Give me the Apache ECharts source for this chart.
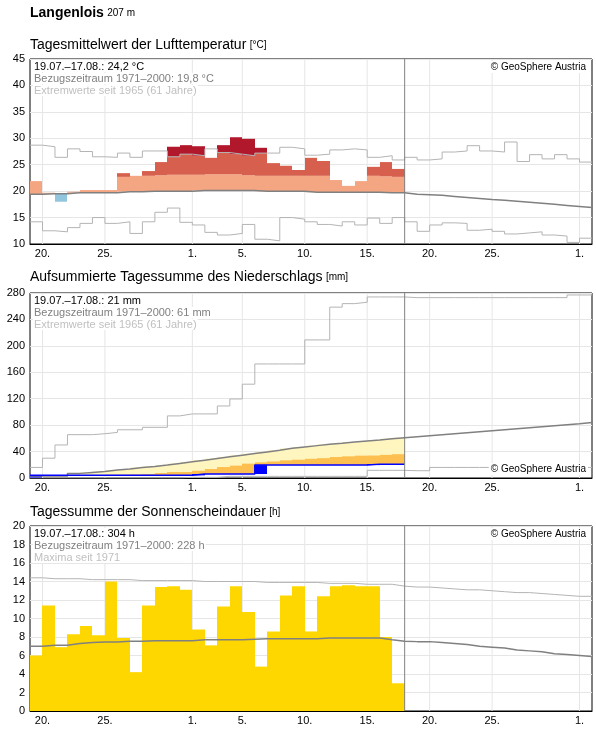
<!DOCTYPE html>
<html>
<head>
<meta charset="utf-8">
<script src="https://cdn.jsdelivr.net/npm/echarts@6/dist/echarts.min.js"></script>
<style>
html,body{margin:0;padding:0;background:#fff;}
#chart{width:596px;height:729px;}
</style>
</head>
<body>
<div id="chart"></div>
<script>
// x = Tage ab 19.07. (Tagesbeginn), Ende der Messdaten bei 30 (18.08.)
const tickPos = [1, 6, 13, 17, 22, 27, 32, 37, 44];
const tickLabels = ['20.', '25.', '1.', '5.', '10.', '15.', '20.', '25.', '1.'];
const obsEnd = 30;

// Temperatur
const tempObs = [21.9, 19.7, 18.0, 19.9, 20.2, 20.2, 20.2, 23.4, 22.9, 23.8, 25.5, 28.4, 28.7, 28.5, 26.3,
  28.7, 30.2, 29.9, 28.2, 25.3, 24.8, 24.0, 26.3, 25.7, 22.1, 21.0, 21.9, 24.6, 25.5, 24.2];
const tempThr = [22.4, 22.5, 22.5, 22.7, 22.7, 22.7, 22.7, 22.7, 22.9, 22.9, 23.0, 23.1, 23.1, 23.1, 23.2,
  23.2, 23.2, 23.0, 22.9, 22.9, 22.9, 22.9, 22.9, 22.9, 22.8, 22.8, 22.8, 22.9, 22.8, 22.7];
const tempNorm = [19.4, 19.5, 19.5, 19.7, 19.7, 19.7, 19.7, 19.9, 19.9, 20.0, 20.0, 20.0, 20.0, 20.1, 20.1,
  20.1, 20.1, 20.1, 20.0, 20.0, 20.0, 20.0, 19.8, 19.8, 19.8, 19.8, 19.8, 19.8, 19.7, 19.7,
  19.4, 19.3, 19.2, 19.0, 18.8, 18.6, 18.4, 18.3, 18.1, 17.9, 17.7, 17.5, 17.3, 17.1, 16.9];
const tempMax = [28.7, 28.4, 26.4, 28.0, 27.5, 26.5, 26.4, 27.2, 26.4, 27.6, 27.6, 26.5, 27.0, 26.7, 28.0,
  27.3, 27.0, 26.7, 27.2, 27.2, 28.3, 28.0, 26.8, 27.0, 27.8, 28.0, 27.8, 26.4, 26.7, 25.9,
  26.4, 25.9, 26.1, 27.4, 27.6, 28.6, 27.6, 27.4, 29.3, 25.6, 26.9, 26.1, 26.9, 26.1, 25.5];
const tempMin = [14.2, 12.5, 12.3, 13.1, 13.9, 15.0, 13.9, 14.2, 12.0, 14.2, 16.0, 16.8, 14.1, 13.6, 12.2,
  11.7, 12.0, 13.7, 10.9, 10.6, 15.0, 14.7, 14.2, 13.7, 13.4, 14.2, 13.6, 14.9, 13.9, 15.0,
  14.2, 12.4, 13.6, 14.0, 13.9, 12.6, 12.8, 12.4, 11.9, 12.1, 12.3, 11.7, 11.5, 10.3, 11.1];

// Niederschlag
const rainDaily = [4, 0, 0, 0, 0, 0, 0, 0, 0, 0, 0, 0, 0, 2, 0, 0, 0, 0, 13.5, 0, 0, 0, 0, 0, 0, 0, 0, 1.5, 0, 0];
const rainPct = [4, 4, 4, 4, 4.5, 4.5, 5, 5, 5.5, 6, 7.5, 9, 9, 11, 13.6, 16.6, 18.7, 21.7, 23.7, 25,
  26.7, 27.7, 29, 30, 31.8, 32.8, 33.8, 34, 35, 36];
const rainNorm = [3, 3, 3, 7, 8.5, 10, 12, 13.5, 16, 17.5, 19.5, 22, 24.5, 27, 29.5, 32, 34.5, 37, 39.5, 42,
  45, 47, 49, 51, 52.5, 54.5, 56, 57.5, 59.5, 61,
  62.5, 64, 65.5, 67, 68.5, 70, 71.5, 73, 74.5, 76, 77.5, 79, 80.5, 82, 84];
const rainMax = [16, 30, 50, 65.6, 65.6, 67, 69, 73, 73, 76.7, 76.7, 94, 97, 97, 97, 109, 119.6, 142, 172.6, 172.6,
  172.6, 172.6, 209, 209, 258.6, 263.9, 266, 274, 274, 274,
  273, 273, 273, 273, 273, 273, 273, 273, 273, 273, 273, 273, 273, 277, 277];
const rainMin = [0, 0, 0, 0, 0, 0, 0, 0, 0, 0, 0, 0, 1, 1, 1, 2.5, 2.5, 2.5, 2.5, 2.5, 2.5, 2.5, 2.5, 2.5, 2.5,
  2.5, 2.5, 11.6, 11.6, 11.6, 11, 11, 16, 16, 16, 16, 16, 16, 16, 16, 16, 16, 16, 16, 16];

// Sonnenschein
const sunObs = [6.0, 11.4, 6.9, 8.3, 9.2, 8.2, 14.0, 7.9, 4.2, 11.4, 13.4, 13.5, 13.1, 8.8, 7.1,
  11.3, 13.5, 10.7, 4.8, 8.6, 12.5, 13.5, 8.6, 12.4, 13.5, 13.6, 13.5, 13.5, 8.0, 3.0];
const sunNorm = [7.0, 7.1, 7.1, 7.3, 7.4, 7.45, 7.45, 7.55, 7.55, 7.6, 7.6, 7.6, 7.6, 7.7, 7.7,
  7.7, 7.7, 7.75, 7.8, 7.8, 7.8, 7.8, 7.8, 7.9, 7.9, 7.9, 7.9, 7.9, 7.7, 7.55,
  7.5, 7.5, 7.4, 7.3, 7.2, 7.0, 6.9, 6.8, 6.6, 6.5, 6.4, 6.2, 6.1, 6.0, 5.9];
const sunMax = [14.4, 14.3, 14.3, 14.3, 14.2, 14.2, 14.2, 14.2, 14.1, 14.1, 14.1, 14.1, 14.1, 14.0, 14.0,
  14.0, 14.0, 14.0, 13.9, 13.9, 13.9, 13.9, 13.9, 13.8, 13.8, 13.8, 13.7, 13.7, 13.7, 13.5,
  13.4, 13.4, 13.3, 13.2, 13.1, 13.1, 13.0, 12.9, 12.8, 12.8, 12.7, 12.6, 12.5, 12.4, 12.4];

const font = 'Arial, "Liberation Sans", sans-serif';
const grids = [
  {left: 30, right: 4, top: 59, height: 185},
  {left: 30, right: 4, top: 293, height: 185},
  {left: 30, right: 4, top: 526, height: 185}
];

function stepData(arr) {
  let d = arr.map((v, i) => [i, v]);
  d.push([arr.length, arr[arr.length - 1]]);
  return d;
}
function stepLine(arr, idx, color, width) {
  return {type: 'line', step: 'end', xAxisIndex: idx, yAxisIndex: idx, data: stepData(arr),
    symbol: 'none', silent: true, z: 5, lineStyle: {color: color, width: width || 1}};
}
function band(rows, idx, color, z) {
  return {
    type: 'custom', xAxisIndex: idx, yAxisIndex: idx, data: rows, silent: true, z: z || 2,
    renderItem: function (params, api) {
      let p0 = api.coord([api.value(0), api.value(2)]);
      let p1 = api.coord([api.value(0) + 1, api.value(1)]);
      let x0 = Math.round(p0[0]), x1 = Math.round(p1[0]);
      return {type: 'rect', shape: {x: x0, y: p0[1], width: x1 - x0, height: p1[1] - p0[1]},
        style: {fill: color}};
    }
  };
}
function vGrid(idx, ymin, ymax) {
  return {
    type: 'custom', xAxisIndex: idx, yAxisIndex: idx, data: tickPos.map(t => [t]), silent: true, z: 0,
    renderItem: function (params, api) {
      let a = api.coord([api.value(0), ymin]), b = api.coord([api.value(0), ymax]);
      return {type: 'line', shape: {x1: a[0], y1: a[1], x2: b[0], y2: b[1]},
        style: {stroke: '#e6e6e6', lineWidth: 1}};
    }
  };
}
function endLine(idx, ymin, ymax) {
  return {
    type: 'custom', xAxisIndex: idx, yAxisIndex: idx, data: [[obsEnd]], silent: true, z: 6,
    renderItem: function (params, api) {
      let a = api.coord([api.value(0), ymin]), b = api.coord([api.value(0), ymax]);
      return {type: 'line', shape: {x1: a[0], y1: a[1], x2: b[0], y2: b[1]},
        style: {stroke: '#808080', lineWidth: 1}};
    }
  };
}

// Temperatur-Schichten
let tBlue = [], tSalmon = [], tRed = [], tDark = [];
tempObs.forEach((t, i) => {
  let n = tempNorm[i], th = tempThr[i], mx = tempMax[i];
  if (t < n) tBlue.push([i, t, n]);
  else {
    tSalmon.push([i, n, Math.min(t, th)]);
    if (t > th) tRed.push([i, th, Math.min(t, mx)]);
    if (t > mx) tDark.push([i, Math.max(th, mx), t]);
  }
});

// Niederschlag kumuliert
let rainCum = [], s = 0;
rainDaily.forEach(v => { s += v; rainCum.push(s); });
let rYellow = [], rOrange = [], rBlue = [];
rainCum.forEach((c, i) => {
  if (rainNorm[i] > c) rYellow.push([i, c, rainNorm[i]]);
  if (rainPct[i] > c) rOrange.push([i, c, rainPct[i]]);
  if (rainDaily[i] > 0) rBlue.push([i, c - rainDaily[i], c]);
});
let sunBars = sunObs.map((v, i) => [i, 0, v]);

function xAxis(idx) {
  return {
    type: 'value', gridIndex: idx, min: 0, max: 45,
    axisLine: {show: true, onZero: false, lineStyle: {color: '#000', width: 1}},
    axisTick: {show: false}, splitLine: {show: false},
    axisLabel: {customValues: tickPos, color: '#000', fontSize: 11, fontFamily: font, margin: 4,
      formatter: v => tickLabels[tickPos.indexOf(Math.round(v))] || ''}
  };
}
function yAxis(idx, min, max, interval) {
  return {
    type: 'value', gridIndex: idx, min: min, max: max, interval: interval,
    axisLine: {show: false}, axisTick: {show: false},
    splitLine: {lineStyle: {color: '#e6e6e6'}},
    axisLabel: {color: '#000', fontSize: 11, fontFamily: font, margin: 5}
  };
}

function title(y, main, unit) {
  return {type: 'text', left: 30, top: y, z: 10,
    style: {text: '{a|' + main + '} {b|[' + unit + ']}', fontFamily: font,
      rich: {a: {fontSize: 14, fill: '#000', fontFamily: font}, b: {fontSize: 10, fill: '#000', fontFamily: font}}}};
}
function legend(y, lines) {
  let cols = ['#000', '#808080', '#c0c0c0'];
  return lines.map((t, i) => ({type: 'text', left: 33, top: y + i * 12, z: 10,
    style: {text: t, fill: cols[i], fontSize: 11, fontFamily: font, backgroundColor: '#fff', padding: [0, 1]}}));
}
function copy(y) {
  return {type: 'text', right: 8, top: y, z: 10,
    style: {text: '© GeoSphere Austria', fill: '#000', fontSize: 10, fontFamily: font, backgroundColor: '#fff', padding: [1, 2]}};
}

const chart = echarts.init(document.getElementById('chart'));
chart.setOption({
  animation: false,
  grid: grids.map(g => Object.assign({show: true, borderColor: '#000', borderWidth: 1, backgroundColor: 'transparent'}, g)),
  xAxis: [xAxis(0), xAxis(1), xAxis(2)],
  yAxis: [yAxis(0, 10, 45, 5), yAxis(1, 0, 280, 40), yAxis(2, 0, 20, 2)],
  graphic: [
    {type: 'text', left: 30, top: 6, style: {text: '{a|Langenlois} {b|207 m}', fontFamily: font,
      rich: {a: {fontSize: 14, fontWeight: 'bold', fill: '#000', fontFamily: font}, b: {fontSize: 10, fill: '#000', fontFamily: font}}}},
    title(38, 'Tagesmittelwert der Lufttemperatur', '°C'),
    title(270, 'Aufsummierte Tagessumme des Niederschlags', 'mm'),
    title(505, 'Tagessumme der Sonnenscheindauer', 'h'),
    ...legend(61, ['19.07.–17.08.: 24,2 °C', 'Bezugszeitraum 1971–2000: 19,8 °C', 'Extremwerte seit 1965 (61 Jahre)']),
    ...legend(295, ['19.07.–17.08.: 21 mm', 'Bezugszeitraum 1971–2000: 61 mm', 'Extremwerte seit 1965 (61 Jahre)']),
    ...legend(528, ['19.07.–17.08.: 304 h', 'Bezugszeitraum 1971–2000: 228 h', 'Maxima seit 1971']),
    copy(61), copy(463), copy(528)
  ],
  series: [
    vGrid(0, 10, 45), vGrid(1, 0, 280), vGrid(2, 0, 20),
    band(tSalmon, 0, '#f4a582'), band(tRed, 0, '#d6604d'), band(tDark, 0, '#b2182b'), band(tBlue, 0, '#92c5de'),
    stepLine(tempMax, 0, '#b4b4b4'), stepLine(tempMin, 0, '#b4b4b4'), stepLine(tempNorm, 0, '#808080', 1.5),
    band(rYellow, 1, '#fff5bf'), band(rOrange, 1, '#fdbf50', 3), band(rBlue, 1, '#0000ff', 4),
    stepLine(rainMax, 1, '#b4b4b4'), stepLine(rainMin, 1, '#b4b4b4'), stepLine(rainNorm, 1, '#808080', 1.5),
    stepLine(rainCum, 1, '#0000ff', 1.5),
    band(sunBars, 2, '#ffd700'),
    stepLine(sunMax, 2, '#b4b4b4'), stepLine(sunNorm, 2, '#808080', 1.5),
    endLine(0, 10, 45), endLine(1, 0, 280), endLine(2, 0, 20)
  ]
});
</script>
</body>
</html>
